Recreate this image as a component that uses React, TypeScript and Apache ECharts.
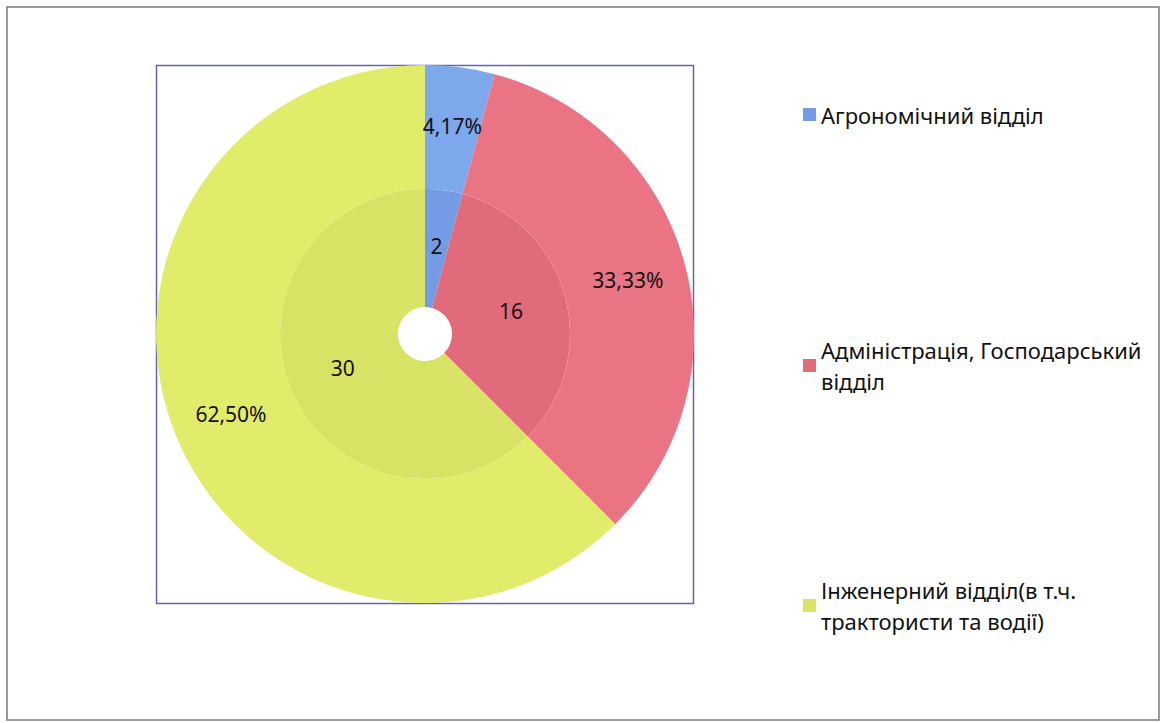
import React, { useEffect, useRef } from "react";
import * as echarts from "echarts";

const categories = [
  "Агрономічний відділ",
  "Адміністрація, Господарський відділ",
  "Інженерний відділ(в т.ч. трактористи та водії)",
];
const legendLines = [
  ["Агрономічний відділ"],
  ["Адміністрація, Господарський", "відділ"],
  ["Інженерний відділ(в т.ч.", "трактористи та водії)"],
];
const counts = [2, 16, 30];
const percentLabels = ["4,17%", "33,33%", "62,50%"];
const outerColors = ["#7ea8ec", "#eb7484", "#e1ec6b"];
const innerColors = ["#739ce4", "#e16b7b", "#d8e366"];
const legendTops = [99, 319, 559];

const FONT = "'Noto Sans', 'DejaVu Sans', sans-serif";

export default function App() {
  const ref = useRef<HTMLDivElement>(null);
  useEffect(() => {
    if (!ref.current) return;
    const chart = echarts.init(ref.current, undefined, { renderer: "svg" });
    const cx = 425;
    const cy = 334;
    const legends = categories.map((name, i) => ({
      show: true,
      orient: "vertical",
      left: 803,
      top: legendTops[i],
      padding: 0,
      data: [name],
      icon: "rect",
      itemWidth: 13,
      itemHeight: 13,
      selectedMode: false,
      formatter: () => legendLines[i].join("\n"),
      textStyle: {
        fontFamily: FONT,
        fontSize: 22,
        color: "#111111",
        lineHeight: 31,
        padding: legendLines[i].length > 1 ? [31, 0, 0, 0] : 0,
      },
    }));
    chart.setOption({
      animation: false,
      backgroundColor: "#ffffff",
      legend: legends,
      graphic: [
        {
          type: "rect",
          shape: { x: 7, y: 7, width: 1152, height: 713 },
          style: { fill: "none", stroke: "#7a7a7a", lineWidth: 1.5 },
          silent: true,
        },
        {
          type: "rect",
          shape: { x: 156.5, y: 65.5, width: 537, height: 538 },
          style: { fill: "none", stroke: "#6464b4", lineWidth: 1.5 },
          silent: true,
        },
      ],
      series: [
        {
          type: "pie",
          name: "inner",
          center: [cx, cy],
          radius: [27, 145],
          startAngle: 90,
          clockwise: true,
          silent: true,
          label: {
            show: true,
            position: "inside",
            formatter: (p: any) => String(counts[p.dataIndex]),
            fontFamily: FONT,
            fontSize: 21,
            color: "#111111",
          },
          labelLine: { show: false },
          itemStyle: { borderWidth: 0 },
          data: categories.map((name, i) => ({
            name,
            value: counts[i],
            itemStyle: { color: innerColors[i] },
          })),
        },
        {
          type: "pie",
          name: "outer",
          center: [cx, cy],
          radius: [145, 269],
          startAngle: 90,
          clockwise: true,
          silent: true,
          label: {
            show: true,
            position: "inside",
            formatter: (p: any) => percentLabels[p.dataIndex],
            fontFamily: FONT,
            fontSize: 21,
            color: "#111111",
          },
          labelLine: { show: false },
          itemStyle: { borderWidth: 0 },
          data: categories.map((name, i) => ({
            name,
            value: counts[i],
            itemStyle: { color: outerColors[i] },
          })),
        },
      ],
    });
    return () => chart.dispose();
  }, []);
  return (
    <div
      ref={ref}
      style={{ position: "absolute", left: 0, top: 0, width: 1161, height: 723 }}
    />
  );
}
